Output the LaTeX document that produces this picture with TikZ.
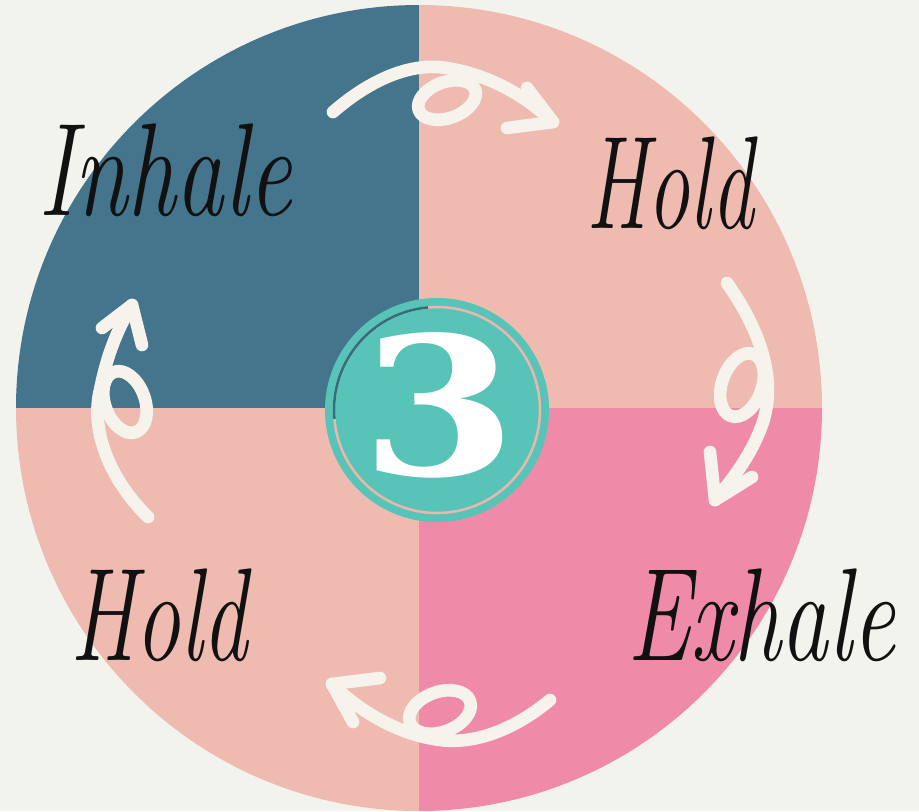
\documentclass[tikz,border=0pt]{standalone}
\usepackage{fontspec}
\newfontfamily\numfont{DejaVu Serif}

\definecolor{paper}{RGB}{243,243,238}
\definecolor{deepblue}{RGB}{69,117,140}
\definecolor{salmon}{RGB}{239,187,176}
\definecolor{rosepink}{RGB}{239,139,169}
\definecolor{badgeteal}{RGB}{88,196,183}
\definecolor{ringpink}{RGB}{233,183,174}
\definecolor{ringdark}{RGB}{52,110,122}
\definecolor{chalk}{RGB}{245,243,235}
\definecolor{ink}{RGB}{17,17,17}

\tikzset{
  swirl/.style={draw=chalk, line width=9pt, line cap=round, line join=round},
  hand/.style={text=ink, font=\fontsize{94}{94}\selectfont\itshape, inner sep=0pt, anchor=base west},
}

\begin{document}
\begin{tikzpicture}[x=0.025cm, y=-0.025cm]

% Canvas (pixel grid, y downwards)
\fill[paper] (0,0) rectangle (919,811);
\useasboundingbox (0,0) rectangle (919,811);

% Parameters
\def\cx{419}   % centre of the wheel
\def\cy{408}
\def\R{403}    % radius of the wheel

% Four quarters of the wheel
\begin{scope}
  \clip (\cx,\cy) circle (\R);
  \fill[deepblue] (\cx,\cy) rectangle (0,0);
  \fill[salmon]   (\cx,\cy) rectangle (919,0);
  \fill[rosepink] (\cx,\cy) rectangle (919,811);
  \fill[salmon]   (\cx,\cy) rectangle (0,811);
\end{scope}

% Centre badge
\node[circle, fill=badgeteal, minimum size=5.6cm, inner sep=0pt] (badge) at (437,410) {};
\draw[ringpink, line width=1.8pt] (badge.center) circle (103);
\draw[ringdark, line width=1.8pt] (badge.center) ++(-185:103) arc[start angle=-185, end angle=-95, radius=103];
\node[text=white, xscale=1.16, font=\numfont\bfseries\fontsize{137}{137}\selectfont] (three) at (439,405) {3};

% Labels
\node[hand, xscale=0.73] (inhale)  at (38,215)  {Inhale};
\node[hand, xscale=0.64] (holdtop) at (586,228) {Hold};
\node[hand, xscale=0.72] (exhale)  at (627,660) {Exhale};
\node[hand, xscale=0.68] (holdbot) at (70,660)  {Hold};

% Arrow ends
\coordinate (t1) at (333,112); \coordinate (h1) at (553,122);
\coordinate (t2) at (727,283); \coordinate (h2) at (715,500);
\coordinate (t3) at (550,700); \coordinate (h3) at (332,684);
\coordinate (t4) at (148,517); \coordinate (h4) at (132,305);

% Inhale -> Hold
\draw[swirl] (t1) .. controls (370,80) and (410,62) .. (447,68) .. controls (495,76) and (530,100) .. (h1);
\draw[swirl] (447,100) ellipse [x radius=30, y radius=18, rotate=20];
\draw[swirl] (527,88) -- (h1) -- (507,128);

% Hold -> Exhale
\draw[swirl] (t2) .. controls (760,330) and (778,380) .. (762,425) .. controls (750,458) and (730,482) .. (h2);
\draw[swirl] (742,385) ellipse [x radius=20, y radius=33, rotate=-20];
\draw[swirl] (710,452) -- (h2) -- (752,477);

% Exhale -> Hold
\draw[swirl] (t3) .. controls (520,725) and (480,745) .. (440,740) .. controls (400,735) and (360,712) .. (h3);
\draw[swirl] (440,712) ellipse [x radius=32, y radius=20, rotate=20];
\draw[swirl] (380,678) -- (h3) -- (353,722);

% Hold -> Inhale
\draw[swirl] (t4) .. controls (110,480) and (90,430) .. (100,390) .. controls (108,350) and (120,325) .. (h4);
\draw[swirl] (125,402) ellipse [x radius=20, y radius=32, rotate=20];
\draw[swirl] (102,328) -- (h4) -- (142,345);

\end{tikzpicture}
\end{document}
